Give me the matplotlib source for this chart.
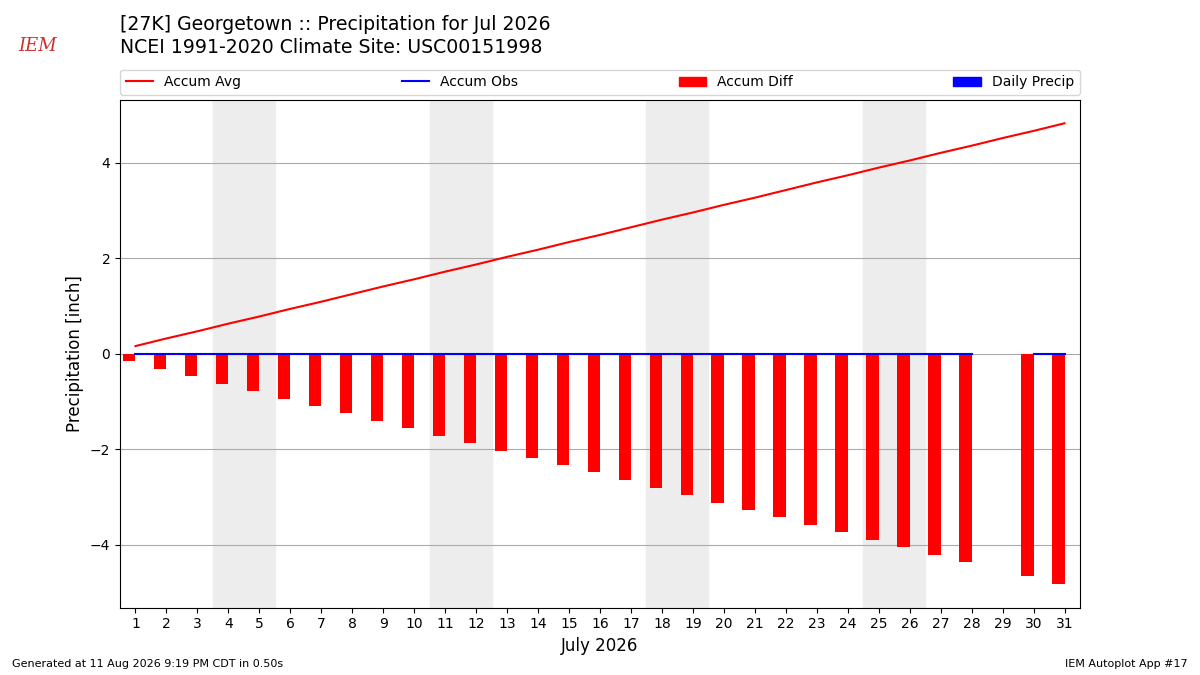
import numpy as np
import matplotlib
matplotlib.use("Agg")
import matplotlib.pyplot as plt
from matplotlib.patches import Patch
from matplotlib.lines import Line2D

days = list(range(1, 32))
accum_avg = [0.16, 0.32, 0.47, 0.63, 0.78, 0.94, 1.09, 1.25, 1.41, 1.56,
             1.72, 1.87, 2.03, 2.18, 2.34, 2.49, 2.65, 2.81, 2.96, 3.12,
             3.27, 3.43, 3.59, 3.74, 3.90, 4.05, 4.21, 4.36, 4.52, 4.67, 4.83]
accum_obs = [0.0] * 28 + [np.nan] + [0.0, 0.0]
accum_diff = [-0.16, -0.32, -0.47, -0.63, -0.78, -0.94, -1.09, -1.25, -1.41, -1.56,
              -1.72, -1.87, -2.03, -2.18, -2.34, -2.49, -2.65, -2.81, -2.96, -3.12,
              -3.27, -3.43, -3.59, -3.74, -3.90, -4.05, -4.21, -4.36, np.nan, -4.67, -4.83]
daily_precip = [0.0] * 28 + [np.nan] + [0.0, 0.0]
weekends = [(4, 5), (11, 12), (18, 19), (25, 26)]

fig = plt.figure(figsize=(12, 6.75), dpi=100)
ax = fig.add_axes([0.1, 0.1, 0.8, 0.752])

for a, b in weekends:
    ax.axvspan(a - 0.5, b + 0.5, color="#ededed", zorder=0)

x = np.array(days, dtype=float)
ax.bar(x, accum_diff, width=-0.4, align="edge", color="r", zorder=2)
ax.bar(x, daily_precip, width=0.4, align="edge", color="b", zorder=2)
ax.plot(x, accum_avg, color="r", lw=1.5, zorder=3)
ax.plot(x, accum_obs, color="b", lw=1.5, zorder=3)

ax.set_xlim(0.5, 31.5)
ax.set_ylim(-5.32, 5.32)
ax.set_xticks(days)
ax.set_xticklabels([str(d) for d in days])
ax.set_yticks([-4, -2, 0, 2, 4])
ax.yaxis.grid(True, color="#aaaaaa", lw=0.8)
ax.set_axisbelow(True)
ax.set_xlabel("July 2026", fontsize=12)
ax.set_ylabel("Precipitation [inch]", fontsize=12)

handles = [Line2D([], [], color="r", lw=1.5), Line2D([], [], color="b", lw=1.5),
           Patch(color="r"), Patch(color="b")]
labels = ["Accum Avg", "Accum Obs", "Accum Diff", "Daily Precip"]
ax.legend(handles, labels, loc="lower left", bbox_to_anchor=(0, 1.01, 1, 0.05),
          mode="expand", ncol=4, borderaxespad=0, fontsize=10)

fig.text(0.1, 0.9644, "[27K] Georgetown :: Precipitation for Jul 2026",
         fontsize=13.6, va="center", ha="left")
fig.text(0.1, 0.9289, "NCEI 1991-2020 Climate Site: USC00151998",
         fontsize=13.6, va="center", ha="left")
fig.text(0.01, 0.012, "Generated at 11 Aug 2026 9:19 PM CDT in 0.50s", fontsize=8)
fig.text(0.99, 0.012, "IEM Autoplot App #17", fontsize=8, ha="right")
fig.text(0.031, 0.932, "IEM", fontsize=13, color="#d03030", family="DejaVu Serif",
         style="italic", ha="center", va="center")

fig.savefig("out.png", dpi=100)
